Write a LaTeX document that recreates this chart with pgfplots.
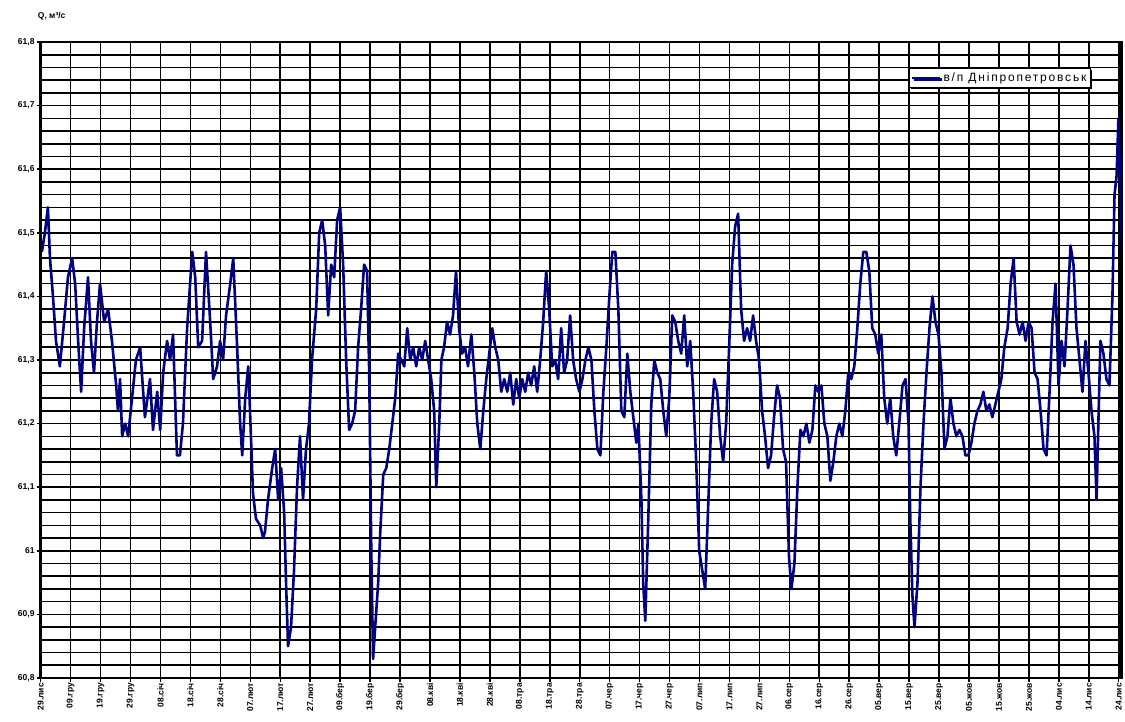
\documentclass[border=0pt]{standalone}
\usepackage{fontspec}
\setmainfont{Liberation Sans}
\usepackage{pgfplots}
\pgfplotsset{compat=1.18}
\usepackage{pgfplotstable}
\usetikzlibrary{shadows}
\definecolor{navyline}{RGB}{0,0,128}
\pgfplotstableread{
d v
0.4 61.47
1.4 61.50
2.4 61.54
3.1 61.46
4.1 61.40
5.1 61.33
6.4 61.29
7.8 61.36
9.1 61.43
10.5 61.46
11.5 61.42
12.5 61.33
13.5 61.25
14.5 61.35
15.8 61.43
16.8 61.33
17.8 61.28
18.8 61.36
19.8 61.42
21.2 61.36
22.5 61.38
23.8 61.33
25.2 61.26
25.8 61.22
26.5 61.27
27.2 61.18
28.2 61.20
29.2 61.18
30.5 61.24
31.8 61.30
33.2 61.32
34.8 61.21
36.5 61.27
37.5 61.19
38.9 61.25
39.9 61.19
40.9 61.28
42.2 61.33
43.2 61.30
44.2 61.34
45.5 61.15
46.5 61.15
47.5 61.20
48.9 61.35
50.6 61.47
51.6 61.43
52.6 61.32
53.9 61.33
55.2 61.47
56.6 61.36
57.6 61.27
58.9 61.29
59.9 61.33
60.9 61.30
61.9 61.37
63.3 61.42
64.3 61.46
65.6 61.32
66.6 61.20
67.3 61.15
68.3 61.24
69.3 61.29
69.9 61.22
70.9 61.09
71.9 61.05
73.3 61.04
74.3 61.02
74.9 61.03
75.9 61.08
77.3 61.13
78.3 61.16
79.3 61.08
80.3 61.13
81.3 61.06
82.0 60.94
82.6 60.85
83.6 60.88
84.6 60.97
85.6 61.10
86.6 61.18
87.6 61.08
88.6 61.16
89.6 61.20
90.6 61.30
92.0 61.38
93.0 61.50
94.0 61.52
95.0 61.48
96.0 61.37
97.0 61.45
98.0 61.43
99.0 61.52
100.0 61.54
101.0 61.45
102.0 61.30
103.0 61.19
104.0 61.20
105.0 61.22
106.0 61.32
107.0 61.38
108.0 61.45
109.0 61.44
109.7 61.28
110.4 61.00
111.0 60.83
111.7 60.88
112.7 60.95
113.4 61.03
114.4 61.12
115.4 61.13
116.4 61.16
117.4 61.20
118.4 61.24
119.4 61.31
120.4 61.30
121.4 61.29
122.4 61.35
123.4 61.30
124.4 61.32
125.4 61.29
126.4 61.32
127.4 61.30
128.4 61.33
129.4 61.30
130.4 61.27
131.4 61.22
132.1 61.10
133.1 61.20
133.8 61.30
134.7 61.32
135.7 61.36
136.7 61.34
137.7 61.37
138.7 61.44
139.7 61.35
140.7 61.31
141.7 61.32
142.7 61.29
143.8 61.34
144.8 61.28
145.8 61.20
146.8 61.16
147.8 61.22
148.8 61.27
149.8 61.31
150.8 61.35
151.8 61.32
152.8 61.30
153.8 61.25
154.8 61.27
155.8 61.25
156.8 61.28
157.8 61.23
158.8 61.27
159.8 61.24
160.8 61.27
161.8 61.25
162.8 61.28
163.8 61.26
164.8 61.29
165.8 61.25
166.8 61.30
167.8 61.36
168.8 61.44
169.8 61.38
170.8 61.29
171.8 61.30
172.8 61.27
173.8 61.35
174.8 61.28
175.8 61.30
176.8 61.37
177.8 61.30
178.8 61.27
179.9 61.25
180.9 61.27
181.9 61.30
182.9 61.32
183.9 61.30
184.9 61.22
185.9 61.16
186.9 61.15
187.9 61.25
188.9 61.32
189.9 61.40
190.9 61.47
191.9 61.47
192.9 61.38
193.9 61.22
194.9 61.21
195.9 61.31
196.9 61.25
197.9 61.21
198.9 61.17
199.6 61.20
200.6 61.08
201.2 60.95
201.9 60.89
202.9 61.05
203.9 61.23
204.9 61.30
205.9 61.28
206.9 61.27
207.9 61.22
208.9 61.18
209.9 61.24
210.9 61.37
211.9 61.36
212.9 61.33
213.9 61.31
214.9 61.37
215.9 61.29
216.9 61.33
217.9 61.25
218.9 61.14
219.9 61.00
220.9 60.97
221.9 60.94
222.9 61.07
223.9 61.20
224.9 61.27
225.9 61.25
226.9 61.18
227.9 61.14
228.9 61.20
229.9 61.32
230.9 61.45
231.9 61.51
232.9 61.53
233.9 61.38
234.9 61.33
235.9 61.35
236.9 61.33
237.9 61.37
238.9 61.33
239.9 61.30
240.9 61.22
241.9 61.18
242.9 61.13
243.9 61.15
244.9 61.21
245.9 61.26
246.9 61.24
247.9 61.16
248.9 61.14
249.9 60.99
250.7 60.94
251.7 60.98
252.7 61.10
253.7 61.19
254.7 61.18
255.7 61.20
256.7 61.17
257.7 61.19
258.7 61.26
259.7 61.25
260.7 61.26
261.7 61.20
262.7 61.18
263.7 61.11
264.7 61.14
265.7 61.18
266.7 61.20
267.7 61.18
268.7 61.22
269.7 61.28
270.7 61.27
271.7 61.29
272.7 61.35
273.7 61.42
274.7 61.47
275.7 61.47
276.7 61.44
277.7 61.35
278.7 61.34
279.7 61.31
280.7 61.34
281.7 61.24
282.7 61.20
283.7 61.24
284.7 61.18
285.7 61.15
286.7 61.20
287.8 61.26
288.8 61.27
289.8 61.20
290.4 61.05
291.1 60.93
291.8 60.88
292.8 60.95
293.8 61.10
294.8 61.20
295.8 61.28
296.8 61.35
297.8 61.40
298.8 61.36
299.8 61.34
300.8 61.28
301.8 61.16
302.8 61.18
303.8 61.24
304.8 61.20
305.8 61.18
306.8 61.19
307.8 61.18
308.8 61.15
309.8 61.15
310.8 61.17
311.8 61.20
312.8 61.22
313.8 61.23
314.8 61.25
315.8 61.22
316.8 61.23
317.8 61.21
318.8 61.23
319.8 61.25
320.8 61.27
321.8 61.32
322.9 61.35
323.9 61.42
324.9 61.46
325.9 61.36
326.9 61.34
327.9 61.36
328.9 61.33
329.9 61.36
330.9 61.35
331.9 61.28
332.9 61.27
333.9 61.22
334.9 61.16
335.9 61.15
336.9 61.25
337.9 61.36
338.9 61.42
339.9 61.26
340.9 61.33
341.9 61.29
342.9 61.38
343.9 61.48
344.9 61.45
345.9 61.35
346.9 61.30
347.9 61.25
348.9 61.33
349.9 61.28
350.9 61.22
351.9 61.18
352.6 61.08
353.2 61.20
353.9 61.33
354.9 61.31
355.9 61.27
356.9 61.26
357.9 61.40
358.6 61.56
359.3 61.59
359.9 61.68
360.6 61.56
361.3 61.44
}\levels
\begin{document}
\begin{tikzpicture}
\begin{axis}[
  scale only axis,
  width=1081pt, height=636pt,
  xmin=0, xmax=361,
  ymin=60.8, ymax=61.8,
  axis line style={line width=2.6pt, black},
  xtick={0,10,...,360},
  xticklabels={29.лис,09.гру,19.гру,29.гру,08.січ,18.січ,28.січ,07.лют,17.лют,27.лют,09.бер,19.бер,29.бер,08.кві,18.кві,28.кві,08.тра,18.тра,28.тра,07.чер,17.чер,27.чер,07.лип,17.лип,27.лип,06.сер,16.сер,26.сер,05.вер,15.вер,25.вер,05.жов,15.жов,25.жов,04.лис,14.лис,24.лис},
  x tick label style={rotate=90, anchor=east, font=\fontsize{8.5}{9}\selectfont\bfseries, inner sep=1pt},
  ytick={60.8,60.9,...,61.85},
  yticklabels={{60,8},{60,9},{61},{61,1},{61,2},{61,3},{61,4},{61,5},{61,6},{61,7},{61,8}},
  y tick label style={font=\fontsize{8.5}{9}\selectfont\bfseries, inner sep=2pt},
  minor y tick num=4,
  tick align=outside,
  major tick length=4pt,
  minor tick length=0pt,
  tick style={black, line width=1.5pt},
  xtick pos=bottom, ytick pos=left,
  grid=both,
  major grid style={black, line width=1.6pt},
  minor grid style={black, line width=1.6pt},
  legend style={at={(0.803,0.959)}, anchor=north west, draw=black, line width=0.8pt, fill=white,
    drop shadow={shadow xshift=1.5pt, shadow yshift=-1.5pt, fill=black, opacity=1},
    font=\fontsize{12}{13}\selectfont\addfontfeature{LetterSpace=15}, inner xsep=2pt, inner ysep=2.5pt, row sep=0pt},
  legend cell align=left,
  legend image code/.code={\draw[#1, line width=2.4pt] (0pt,0pt) -- (28pt,0pt);},
]
\addplot[navyline, line width=2.6pt, line join=round, mark=none] table[x=d, y=v] {\levels};
\addlegendentry{в/п Дніпропетровськ}
\end{axis}
\node[anchor=west, font=\fontsize{8.5}{9}\selectfont\bfseries, inner sep=0pt] at ([xshift=-3pt,yshift=26pt]current axis.north west) {Q, м³/с};
\pgfresetboundingbox
\path[use as bounding box] ([xshift=-40.7pt,yshift=-44pt]current axis.south west) rectangle ([xshift=3.3pt,yshift=42pt]current axis.north east);
\end{tikzpicture}
\end{document}
